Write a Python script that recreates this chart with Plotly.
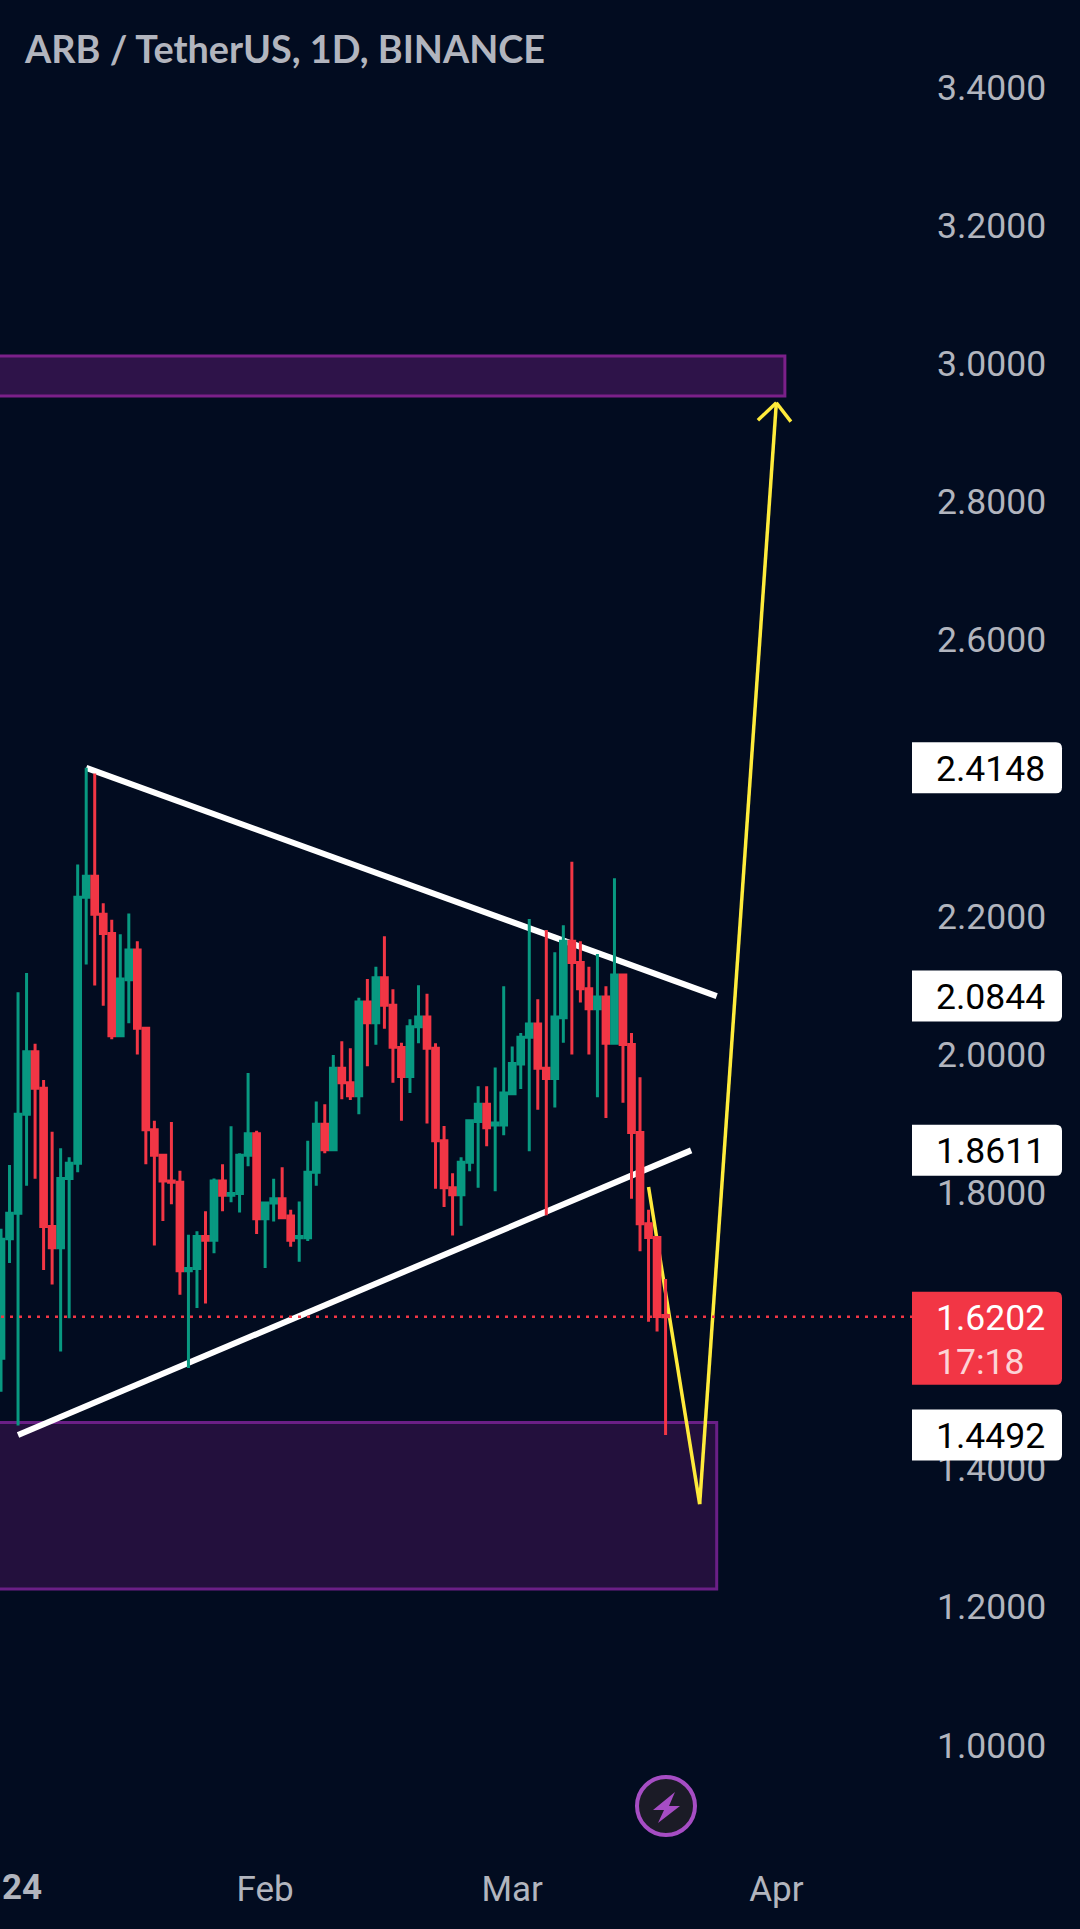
import pandas as pd
import plotly.graph_objects as go

# ---- data ----
dates = pd.date_range("2024-01-01", periods=79, freq="D")
opens = [1.560,1.733,1.770,1.9135,2.004,1.951,1.751,1.720,1.8205,1.8425,
         2.2276,2.258,2.203,2.175,2.027,2.108,2.151,2.038,1.891,1.854,
         1.8166,1.815,1.687,1.690,1.7365,1.731,1.8166,1.796,1.7985,1.854,
         1.885,1.762,1.785,1.791,1.766,1.7345,1.7345,1.8295,1.899,1.862,
         1.980,1.959,1.940,2.076,2.046,2.111,2.071,2.010,1.968,2.040,
         2.054,2.009,1.875,1.807,1.797,1.844,1.903,1.928,1.898,1.898,
         1.943,1.986,2.025,2.044,1.980,1.965,2.053,2.164,2.133,2.095,
         2.066,2.083,2.016,2.115,2.0145,1.887,1.755,1.735,1.622]
highs = [1.7475,1.840,2.090,2.118,2.0156,1.963,1.888,1.864,1.851,2.275,
         2.4148,2.4066,2.219,2.195,2.174,2.204,2.164,2.040,1.904,1.855,
         1.902,1.8315,1.739,1.744,1.773,1.8205,1.841,1.896,1.857,1.973,
         1.8896,1.786,1.820,1.8366,1.775,1.787,1.875,1.932,1.928,1.999,
         2.019,2.009,2.082,2.109,2.127,2.171,2.0945,2.017,2.051,2.100,
         2.088,2.016,1.8965,1.828,1.851,1.905,1.954,1.954,1.981,2.0986,
         2.0116,2.031,2.196,2.080,2.180,2.148,2.187,2.279,2.164,2.127,
         2.1455,2.0986,2.255,2.116,2.031,1.967,1.775,1.736,1.675]
lows = [1.5116,1.698,1.463,1.810,1.820,1.688,1.667,1.570,1.618,1.8295,
        2.130,2.0997,2.0706,2.022,2.027,2.045,2.000,1.841,1.7235,1.759,
        1.783,1.652,1.546,1.633,1.6395,1.712,1.773,1.786,1.771,1.838,
        1.740,1.691,1.758,1.7636,1.7216,1.700,1.730,1.810,1.857,1.862,
        1.935,1.934,1.9135,1.983,2.014,2.037,1.959,1.904,1.944,2.016,
        1.900,1.8055,1.779,1.738,1.752,1.831,1.807,1.867,1.802,1.883,
        1.941,1.950,1.860,1.920,1.767,1.923,2.017,2.000,2.075,2.000,
        1.938,1.908,2.016,1.930,1.791,1.715,1.613,1.599,1.4492]
closes = [1.7326,1.770,1.9135,2.004,1.951,1.751,1.720,1.8205,1.8425,2.2276,
          2.258,2.203,2.175,2.027,2.109,2.151,2.038,1.891,1.854,1.8166,
          1.815,1.687,1.690,1.7365,1.731,1.8166,1.796,1.7985,1.854,1.885,
          1.762,1.785,1.791,1.7636,1.731,1.7365,1.8295,1.899,1.862,1.980,
          1.959,1.940,2.076,2.046,2.111,2.071,2.0105,1.968,2.040,2.054,
          2.009,1.875,1.807,1.797,1.844,1.904,1.928,1.894,1.9006,1.944,
          1.987,2.025,2.044,1.980,1.965,2.054,2.164,2.133,2.095,2.066,
          2.083,2.016,2.115,2.0145,1.887,1.755,1.735,1.6206,1.6202]

y_ticks = [3.4, 3.2, 3.0, 2.8, 2.6, 2.2, 2.0, 1.8, 1.4, 1.2, 1.0]
x_ticks = ["2024-02-01", "2024-03-01", "2024-04-01"]
x_tick_labels = ["Feb", "Mar", "Apr"]
title_text = "ARB / TetherUS, 1D, BINANCE"
last_price = 1.6202
countdown = "17:18"
price_end = "2024-04-17"

upper_trend_x = ["2024-01-11", "2024-03-25"]
upper_trend_y = [2.4148, 2.0844]
lower_trend_x = ["2024-01-03", "2024-03-22"]
lower_trend_y = [1.4492, 1.8611]
path_x = ["2024-03-17", "2024-03-23", "2024-04-01"]
path_y = [1.808, 1.349, 2.9434]
arrow_x = ["2024-03-29 20:00", "2024-04-01", "2024-04-02 17:00"]
arrow_y = [2.918, 2.9434, 2.916]
zone_top_x = ["2023-12-01", "2024-04-02"]
zone_top_y = [2.953, 3.011]
zone_bottom_x = ["2023-12-01", "2024-03-25"]
zone_bottom_y = [1.226, 1.467]
drawn_labels = [2.4148, 2.0844, 1.8611, 1.4492]

# ---- styles ----
BG = "#020c20"
GREEN = "#089981"
RED = "#f23645"
AXIS = "#b2b5be"
YELLOW = "#ffeb3b"
W, H = 1080, 1929
PILL_L = 912
PILL_R = 1062
TEXT_R = 1047


def polyline(xs, ys, color, width):
    return [dict(type="line", layer="below", xref="x", yref="y",
                 x0=xs[i], y0=ys[i], x1=xs[i + 1], y1=ys[i + 1],
                 line=dict(color=color, width=width)) for i in range(len(xs) - 1)]


def zone(xs, ys, fill, border):
    return dict(type="rect", layer="below", xref="x", yref="y",
                x0=xs[0], x1=xs[1], y0=ys[0], y1=ys[1], fillcolor=fill,
                line=dict(color=border, width=3))


def pill(value, up, down, color):
    w, r = PILL_R - PILL_L, 6
    d = (f"M0,{up} L{w-r},{up} Q{w},{up} {w},{up-r} L{w},{down+r} "
         f"Q{w},{down} {w-r},{down} L0,{down} Z")
    return dict(type="path", layer="above", xref="paper", yref="y",
                xsizemode="pixel", ysizemode="pixel",
                xanchor=PILL_L / W, yanchor=value, path=d,
                fillcolor=color, line=dict(width=0))


fig = go.Figure()
fig.add_trace(go.Candlestick(
    x=dates, open=opens, high=highs, low=lows, close=closes,
    whiskerwidth=0, hoverinfo="skip",
    increasing=dict(line=dict(color=GREEN, width=3), fillcolor=GREEN),
    decreasing=dict(line=dict(color=RED, width=3), fillcolor=RED),
    showlegend=False))
fig.add_trace(go.Scatter(
    x=[dates[0], price_end], y=[last_price, last_price], mode="lines",
    line=dict(color=RED, width=2.5, dash="3px,6px"), hoverinfo="skip", showlegend=False))

shapes = [zone(zone_top_x, zone_top_y, "#2e1349", "#7b2089"),
          zone(zone_bottom_x, zone_bottom_y, "#23103d", "#6a1f86")]
shapes += polyline(upper_trend_x, upper_trend_y, "#ffffff", 6)
shapes += polyline(lower_trend_x, lower_trend_y, "#ffffff", 6)
shapes += polyline(path_x, path_y, YELLOW, 3.5)
shapes += polyline(arrow_x, arrow_y, YELLOW, 3.5)
for v in drawn_labels:
    shapes.append(pill(v, 25.5, -25.5, "#ffffff"))
shapes.append(pill(last_price, 25, -68, RED))

# lightning badge
cx, cy = 666 / W, 1 - 1806 / H
shapes.append(dict(type="circle", layer="above", xref="paper", yref="paper",
                   xsizemode="pixel", ysizemode="pixel", xanchor=cx, yanchor=cy,
                   x0=-29, x1=29, y0=-29, y1=29, fillcolor="#1b1b26",
                   line=dict(color="#a64dc4", width=4)))
shapes.append(dict(type="path", layer="above", xref="paper", yref="paper",
                   xsizemode="pixel", ysizemode="pixel", xanchor=cx, yanchor=cy,
                   path="M9,14 L-13,-4 L-2,-4 L-8,-17 L14,0 L3,0 Z",
                   fillcolor="#a64dc4", line=dict(width=0)))

ROBOTO = "Roboto, sans-serif"
annotations = [
    dict(text=title_text, xref="paper", yref="paper", x=22 / W, y=1 - 48 / H,
         xanchor="left", yanchor="middle", showarrow=False,
         font=dict(family="Lato", size=37.8, color=AXIS, weight="bold")),
    dict(text="24", xref="paper", yref="paper", x=0, y=1 - 1887 / H,
         xanchor="left", yanchor="middle", showarrow=False,
         font=dict(family=ROBOTO, size=35, color=AXIS, weight="bold")),
]
for v in drawn_labels:
    annotations.append(dict(text=f"{v:.4f}", xref="paper", yref="y", x=TEXT_R / W, y=v,
                            yshift=-1, xanchor="right", yanchor="middle", showarrow=False,
                            font=dict(family=ROBOTO, size=35.5, color="#000000")))
annotations.append(dict(text=f"{last_price:.4f}", xref="paper", yref="y", x=TEXT_R / W,
                        y=last_price, yshift=-1, xanchor="right", yanchor="middle", showarrow=False,
                        font=dict(family=ROBOTO, size=35.5, color="#ffffff")))
annotations.append(dict(text=countdown, xref="paper", yref="y", x=934 / W,
                        y=last_price, yshift=-45, xanchor="left", yanchor="middle",
                        showarrow=False,
                        font=dict(family=ROBOTO, size=35.5, color="rgba(255,255,255,0.8)")))

fig.update_layout(
    width=W, height=H, autosize=False,
    margin=dict(l=0, r=0, t=0, b=0, pad=0),
    paper_bgcolor=BG, plot_bgcolor=BG,
    boxgap=0.05, hovermode=False, showlegend=False,
    shapes=shapes, annotations=annotations,
    xaxis=dict(type="date", range=["2023-12-31 21:11", "2024-05-06 15:20"],
               tickvals=x_ticks, ticktext=x_tick_labels,
               ticks="inside", ticklen=25, tickcolor="rgba(0,0,0,0)",
               ticklabelposition="inside",
               tickfont=dict(family=ROBOTO, size=35, color=AXIS),
               showgrid=False, zeroline=False, showline=False,
               rangeslider=dict(visible=False), fixedrange=True),
    yaxis=dict(range=[0.73396, 3.52637], side="right",
               tickvals=y_ticks, tickformat=".4f",
               ticks="inside", ticklen=38, tickcolor="rgba(0,0,0,0)",
               ticklabelposition="inside",
               tickfont=dict(family=ROBOTO, size=35.5, color=AXIS),
               showgrid=False, zeroline=False, showline=False, fixedrange=True),
)

fig.write_html("out.html", config=dict(displayModeBar=False),
               post_script=f"document.body.style.margin='0';document.body.style.background='{BG}';")
